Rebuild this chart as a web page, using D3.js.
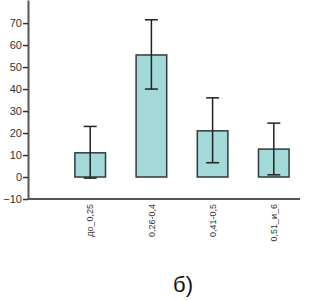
<!DOCTYPE html>
<html>
<head>
<meta charset="utf-8">
<script src="https://cdn.jsdelivr.net/npm/d3@7"></script>
<style>
  body { margin: 0; background: #fff; }
  text { font-family: "Liberation Sans", Arial, sans-serif; }
</style>
</head>
<body>
<div id="chart"></div>
<script>
const categories = ["до_0,25", "0,26-0,4", "0,41-0,5", "0,51_и_6"];
const means = [11, 55.5, 21, 12.7];
const lower = [-0.5, 40, 6.5, 1];
const upper = [23, 71.5, 36, 24.5];
const yTicks = [-10, 0, 10, 20, 30, 40, 50, 60, 70];

window.onload = function () {
    const data = categories.map((c, i) => ({ cat: c, mean: means[i], lo: lower[i], hi: upper[i] }));

    const svg = d3.select("#chart")
        .append("svg")
        .attr("width", 335)
        .attr("height", 300);

    const xScale = d3.scaleBand()
        .domain(categories)
        .range([29, 335])
        .paddingInner(0.5)
        .paddingOuter(0.75);

    const yScale = d3.scaleLinear()
        .domain([-10, 80.5])
        .range([199, 0]);

    // bars
    svg.selectAll(".bar")
        .data(data)
        .enter()
        .append("rect")
        .attr("class", "bar")
        .attr("x", d => xScale(d.cat))
        .attr("y", d => yScale(d.mean))
        .attr("width", xScale.bandwidth())
        .attr("height", d => yScale(0) - yScale(d.mean))
        .attr("fill", "#a3d9d9")
        .attr("stroke", "#2f3a3a")
        .attr("stroke-width", 1.5);

    // error bars
    const cx = d => xScale(d.cat) + xScale.bandwidth() / 2;
    const err = svg.selectAll(".err")
        .data(data)
        .enter()
        .append("g")
        .attr("stroke", "#222")
        .attr("stroke-width", 1.5);
    err.append("line")
        .attr("x1", cx).attr("x2", cx)
        .attr("y1", d => yScale(d.hi)).attr("y2", d => yScale(d.lo));
    err.append("line")
        .attr("x1", d => cx(d) - 6.5).attr("x2", d => cx(d) + 6.5)
        .attr("y1", d => yScale(d.hi)).attr("y2", d => yScale(d.hi));
    err.append("line")
        .attr("x1", d => cx(d) - 6.5).attr("x2", d => cx(d) + 6.5)
        .attr("y1", d => yScale(d.lo)).attr("y2", d => yScale(d.lo));

    // y axis
    const yAxis = svg.append("g")
        .attr("transform", "translate(28,0)")
        .call(d3.axisLeft(yScale).tickValues(yTicks).tickSize(5).tickSizeOuter(0));
    yAxis.select(".domain").attr("stroke", "#555").attr("stroke-width", 2);
    yAxis.selectAll(".tick line").attr("stroke", "#333").attr("stroke-width", 1.5);
    yAxis.selectAll(".tick text")
        .attr("fill", "#333")
        .style("font-size", "11px")
        .attr("x", -6);

    // x axis
    const xAxis = svg.append("g")
        .attr("transform", "translate(0,199)")
        .call(d3.axisBottom(xScale).tickSize(0).tickSizeOuter(0));
    xAxis.select(".domain")
        .attr("d", "M28,0H300")
        .attr("stroke", "#555").attr("stroke-width", 2);
    xAxis.selectAll(".tick text")
        .attr("fill", "#333")
        .style("font-size", "9px")
        .attr("text-anchor", "end")
        .attr("transform", "rotate(-90)")
        .attr("x", -5)
        .attr("y", 0)
        .attr("dy", "0.35em");

    svg.append("text")
        .attr("x", 183)
        .attr("y", 292)
        .attr("text-anchor", "middle")
        .style("font-size", "22px")
        .attr("fill", "#111")
        .text("б)");
};
</script>
</body>
</html>
